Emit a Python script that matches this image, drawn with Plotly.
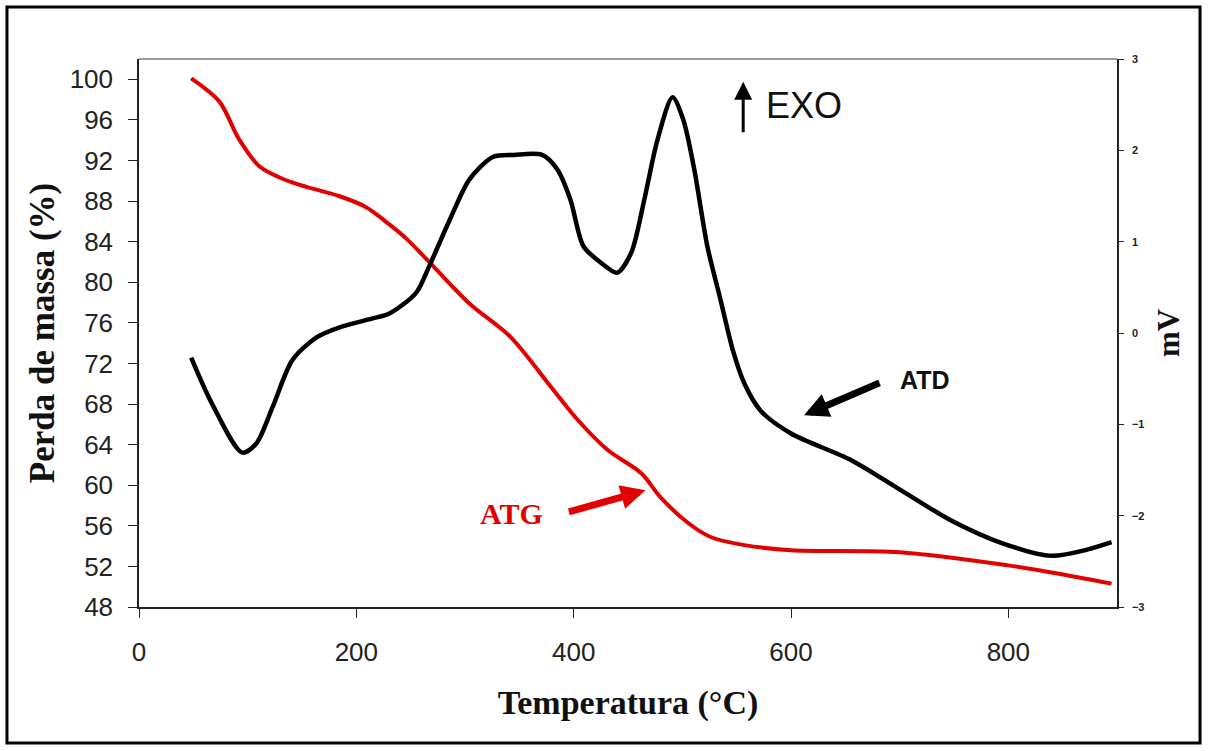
import plotly.graph_objects as go

# ATG (mass loss, %) vs temperature
atg_temp = [48, 74, 92, 111, 132, 154, 184, 209, 228, 246, 267, 304, 342, 379, 404, 431, 462, 480, 505, 526, 557, 600, 700, 800, 840, 895]
atg_mass = [100.1, 97.8, 94.1, 91.4, 90.2, 89.4, 88.5, 87.4, 85.9, 84.3, 82.0, 77.9, 74.6, 69.7, 66.4, 63.5, 61.2, 58.8, 56.3, 54.9, 54.1, 53.6, 53.4, 52.1, 51.4, 50.3]

# ATD (mV) vs temperature
atd_temp = [48, 67, 95, 108, 123, 141, 163, 184, 215, 230, 255, 267, 286, 304, 326, 345, 371, 385, 397, 409, 425, 440, 453, 465, 477, 491, 501, 511, 523, 535, 547, 557, 572, 600, 655, 701, 747, 794, 840, 870, 895]
atd_mv = [-0.27, -0.77, -1.31, -1.21, -0.81, -0.30, -0.05, 0.06, 0.16, 0.21, 0.44, 0.73, 1.24, 1.68, 1.93, 1.95, 1.95, 1.79, 1.46, 0.95, 0.77, 0.66, 0.88, 1.46, 2.11, 2.58, 2.33, 1.79, 0.95, 0.37, -0.21, -0.55, -0.85, -1.10, -1.39, -1.72, -2.05, -2.30, -2.44, -2.38, -2.29]

x_ticks = [0, 200, 400, 600, 800]
y_left_ticks = list(range(48, 101, 4))
y_right_ticks = [-3, -2, -1, 0, 1, 2, 3]

RED = "#e30000"
SERIF = "Liberation Serif, Times New Roman, serif"
SANS = "Liberation Sans, Arial, sans-serif"

fig = go.Figure()
fig.add_trace(go.Scatter(x=atg_temp, y=atg_mass, mode="lines", name="ATG",
                         line=dict(color=RED, width=4, shape="spline", smoothing=0.9),
                         yaxis="y"))
fig.add_trace(go.Scatter(x=atd_temp, y=atd_mv, mode="lines", name="ATD",
                         line=dict(color="black", width=4.5, shape="spline", smoothing=0.8),
                         yaxis="y2"))

fig.update_layout(
    width=1208, height=751,
    margin=dict(l=139, r=91, t=59, b=144),
    paper_bgcolor="white", plot_bgcolor="white",
    showlegend=False,
    xaxis=dict(range=[0, 900], tickvals=x_ticks, ticks="outside", ticklen=9,
               tickcolor="#222", showline=True, linecolor="#222", linewidth=1.5,
               showgrid=False, zeroline=False,
               tickfont=dict(family=SANS, size=26, color="#222"),
               ticklabelstandoff=12,
               title=dict(text="<b>Temperatura (°C)</b>", standoff=24,
                          font=dict(family=SERIF, size=34, color="#111"))),
    yaxis=dict(range=[48, 102], tickvals=y_left_ticks, ticks="outside", ticklen=9,
               tickcolor="#222", showline=True, linecolor="#222", linewidth=1.5,
               showgrid=False, zeroline=False,
               tickfont=dict(family=SANS, size=26, color="#222"),
               ticklabelstandoff=10,
               title=dict(text="<b>Perda de massa (%)</b>", standoff=4,
                          font=dict(family=SERIF, size=35, color="#111"))),
    yaxis2=dict(range=[-3, 3], tickvals=y_right_ticks, overlaying="y", side="right",
                ticks="outside", ticklen=5, tickcolor="#222",
                showline=True, linecolor="#222", linewidth=1.5,
                showgrid=False, zeroline=False,
                tickfont=dict(family=SANS, size=11, color="#222", weight="bold"),
                ticklabelstandoff=6,
                title=dict(text="<b>mV</b>", standoff=14,
                           font=dict(family=SERIF, size=31, color="#111"))),
    shapes=[
        dict(type="line", xref="paper", yref="paper", x0=0, x1=1, y0=1, y1=1,
             line=dict(color="#999", width=2)),
        dict(type="rect", xref="paper", yref="paper", x0=-0.135, x1=1.0849,
             y0=-0.248, y1=1.0949, line=dict(color="black", width=3)),
    ],
    annotations=[
        # EXO arrow + text
        dict(x=556, y=2.75, xref="x", yref="y2", ax=0, ay=52, axref="pixel", ayref="pixel",
             text="", showarrow=True, arrowhead=2, arrowsize=1.2, arrowwidth=3, arrowcolor="black"),
        dict(x=575, y=2.49, xref="x", yref="y2", text="EXO", showarrow=False, xanchor="left",
             font=dict(family=SANS, size=36, color="#111")),
        # ATG label + arrow
        dict(x=466, y=59.5, xref="x", yref="y", ax=-78, ay=22, text="", showarrow=True,
             arrowhead=2, arrowsize=0.7, arrowwidth=7, arrowcolor=RED),
        dict(x=343, y=57.2, xref="x", yref="y", text="<b>ATG</b>", showarrow=False,
             font=dict(family=SERIF, size=30, color=RED)),
        # ATD label + arrow
        dict(x=612, y=-0.90, xref="x", yref="y2", ax=77, ay=-33, text="", showarrow=True,
             arrowhead=2, arrowsize=0.7, arrowwidth=7, arrowcolor="black"),
        dict(x=723, y=-0.52, xref="x", yref="y2", text="<b>ATD</b>", showarrow=False,
             font=dict(family=SANS, size=25, color="#111")),
    ],
)

fig.write_html("out.html", config={"displayModeBar": False},
               post_script="document.body.style.margin='0';")
